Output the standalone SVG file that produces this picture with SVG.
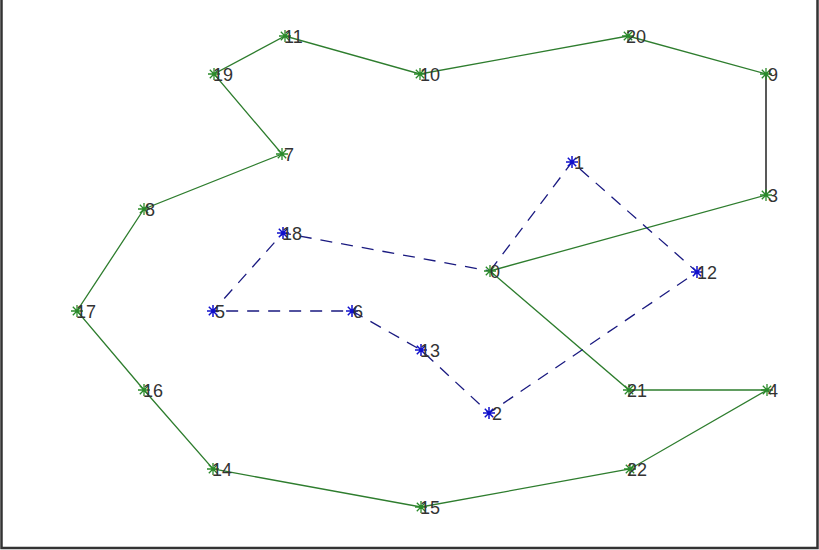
<svg xmlns="http://www.w3.org/2000/svg" xmlns:xlink="http://www.w3.org/1999/xlink" width="819" height="550" viewBox="0 0 819 550">
<style>
.g{fill:none;stroke:#2e7d2e;stroke-width:1.3}
.k{fill:none;stroke:#222;stroke-width:1.5}
.b{fill:none;stroke:#1a1a80;stroke-width:1.3;stroke-dasharray:12 9}
.mg{stroke:#2a8a2a;stroke-width:1.3;fill:none}
.mb{stroke:#1010cc;stroke-width:1.5;fill:none}
text{font-family:"Liberation Sans",Arial,sans-serif;font-size:18px;fill:#333}
</style>
<defs>
<path id="st" d="M-6,0H6M0,-6V6M-4.2,-4.2L4.2,4.2M-4.2,4.2L4.2,-4.2"/>
</defs>
<rect width="819" height="550" fill="#fff"/>
<path d="M1.5,0V548H817.5V0" fill="none" stroke="#333" stroke-width="2.5"/>
<g id="connectors">
<polyline class="g" points="490,271 766,195"/>
<polyline class="k" points="766,195 766,74"/>
<polyline class="g" points="766,74 628,36 420,74 285,36 214,74 282,154 144,209 77,311 144,390 213,469 421,507 630,469 767,390"/>
<polyline class="g" points="767,390 629,390 490,271"/>
<polyline class="b" points="490,271 572,162 697,272 489,413 421,350 352,311 213,311 283,233 490,271"/>
</g>
<g id="n0"><use href="#st" x="490" y="271" class="mg"/><text x="490" y="278">0</text></g>
<g id="n1"><use href="#st" x="572" y="162" class="mb"/><text x="574" y="169">1</text></g>
<g id="n2"><use href="#st" x="489" y="413" class="mb"/><text x="492" y="420">2</text></g>
<g id="n3"><use href="#st" x="766" y="195" class="mg"/><text x="768" y="202">3</text></g>
<g id="n4"><use href="#st" x="767" y="390" class="mg"/><text x="768" y="397">4</text></g>
<g id="n5"><use href="#st" x="213" y="311" class="mb"/><text x="215" y="318">5</text></g>
<g id="n6"><use href="#st" x="352" y="311" class="mb"/><text x="353" y="318">6</text></g>
<g id="n7"><use href="#st" x="282" y="154" class="mg"/><text x="284" y="161">7</text></g>
<g id="n8"><use href="#st" x="144" y="209" class="mg"/><text x="145" y="216">8</text></g>
<g id="n9"><use href="#st" x="766" y="74" class="mg"/><text x="768" y="81">9</text></g>
<g id="n10"><use href="#st" x="420" y="74" class="mg"/><text x="420" y="81">10</text></g>
<g id="n11"><use href="#st" x="285" y="36" class="mg"/><text x="284" y="43">11</text></g>
<g id="n12"><use href="#st" x="697" y="272" class="mb"/><text x="697" y="279">12</text></g>
<g id="n13"><use href="#st" x="421" y="350" class="mb"/><text x="420" y="357">13</text></g>
<g id="n14"><use href="#st" x="213" y="469" class="mg"/><text x="212" y="476">14</text></g>
<g id="n15"><use href="#st" x="421" y="507" class="mg"/><text x="420" y="514">15</text></g>
<g id="n16"><use href="#st" x="144" y="390" class="mg"/><text x="143" y="397">16</text></g>
<g id="n17"><use href="#st" x="77" y="311" class="mg"/><text x="76" y="318">17</text></g>
<g id="n18"><use href="#st" x="283" y="233" class="mb"/><text x="282" y="240">18</text></g>
<g id="n19"><use href="#st" x="214" y="74" class="mg"/><text x="213" y="81">19</text></g>
<g id="n20"><use href="#st" x="628" y="36" class="mg"/><text x="626" y="43">20</text></g>
<g id="n21"><use href="#st" x="629" y="390" class="mg"/><text x="627" y="397">21</text></g>
<g id="n22"><use href="#st" x="630" y="469" class="mg"/><text x="627" y="476">22</text></g>
</svg>
